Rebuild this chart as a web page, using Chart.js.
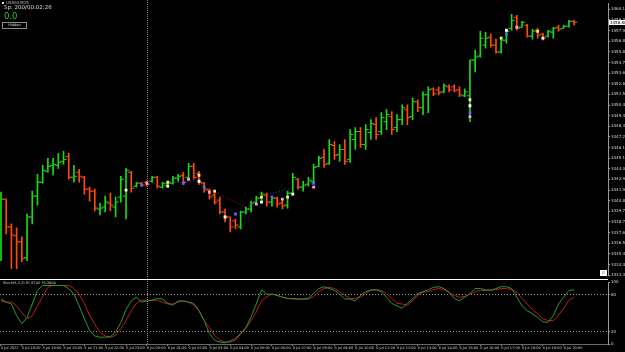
<!DOCTYPE html>
<html>
<head>
<meta charset="utf-8">
<script src="https://cdn.jsdelivr.net/npm/chart.js@4.4.1/dist/chart.umd.min.js"></script>
<style>
  html, body { margin: 0; padding: 0; background: #000; }
  #wrap { position: relative; width: 625px; height: 352px; overflow: hidden; background: #000; font-family: 'DejaVu Sans', sans-serif; }
  canvas { position: absolute; left: 0; }
  #price { top: 0; }
  #osc { top: 279px; }
  .txt { position: absolute; white-space: nowrap; line-height: 1; }
  #title { left: 6px; top: 1px; font-size: 4px; color: #bbb; }
  #sq { position: absolute; left: 2px; top: 2px; width: 2px; height: 2px; background: #ddd; }
  #spread { left: 4px; top: 5px; font-size: 5.5px; color: #ddd; }
  #pnl { left: 4px; top: 12px; font-size: 8.5px; color: #1ed21e; }
  #hide { left: 2px; top: 22px; width: 23px; height: 5px; border: 1px solid #8a8a8a; font-size: 3.5px; color: #ddd; text-align: center; line-height: 5px; }
  #sep { position: absolute; left: 0; top: 279px; width: 608px; height: 1px; background: #fff; }
  #stochTxt { left: 3px; top: 282px; font-size: 3.5px; color: #ccc; }
  #corner { position: absolute; left: 600px; top: 270px; width: 7px; height: 6px; background: #fff; color: #555; font-size: 3px; line-height: 6px; text-align: center; }
</style>
</head>
<body>
<div id="wrap">
  <canvas id="price" width="625" height="279"></canvas>
  <canvas id="osc" width="625" height="73"></canvas>
  <div id="sep"></div>
  <div id="sq"></div>
  <div class="txt" id="title">US500,M15</div>
  <div class="txt" id="spread">Sp: 200/00:02:26</div>
  <div class="txt" id="pnl">0.0</div>
  <div class="txt" id="hide">Hidden</div>
  <div class="txt" id="stochTxt"></div>
  <div id="corner">ET</div>
</div>
<script>
// bar data, one entry per M15 bar
var opens = [3435.5, 3441.0, 3438.2, 3437.3, 3436.7, 3435.1, 3439.2, 3441.3, 3442.7, 3443.8,
  3444.4, 3444.4, 3444.8, 3445.3, 3443.2, 3443.7, 3443.2, 3442.0, 3441.8, 3440.0,
  3440.2, 3440.6, 3440.2, 3441.2, 3441.3, 3443.7, 3442.3, 3442.6, 3442.7, 3442.8,
  3443.2, 3442.2, 3442.4, 3442.6, 3443.1, 3443.4, 3443.2, 3444.3, 3443.6, 3442.6,
  3441.9, 3441.4, 3440.9, 3439.7, 3439.2, 3438.8, 3438.2, 3439.7, 3440.0, 3440.7,
  3441.1, 3441.4, 3440.7, 3441.1, 3440.6, 3440.4, 3441.6, 3443.0, 3442.2, 3442.5,
  3442.8, 3444.3, 3445.2, 3444.6, 3446.4, 3445.5, 3446.0, 3445.0, 3447.0, 3447.8,
  3446.5, 3447.7, 3448.5, 3447.8, 3448.8, 3449.3, 3448.2, 3449.0, 3450.0, 3449.3,
  3450.8, 3450.2, 3451.5, 3452.1, 3452.0, 3451.8, 3452.3, 3452.3, 3452.0, 3451.4,
  3451.4, 3455.0, 3455.4, 3456.5, 3457.3, 3456.5, 3455.8, 3457.0, 3458.2, 3459.3,
  3458.3, 3458.5, 3457.4, 3458.0, 3457.6, 3457.4, 3457.8, 3458.3, 3458.2, 3458.4, 3458.9];
var highs = [3441.7, 3441.0, 3438.5, 3438.1, 3437.2, 3439.5, 3441.8, 3443.5, 3444.4, 3445.1,
  3445.1, 3445.6, 3445.8, 3445.6, 3444.4, 3444.0, 3443.3, 3442.2, 3442.0, 3440.6,
  3441.3, 3441.6, 3441.2, 3443.3, 3444.1, 3443.8, 3442.7, 3442.7, 3442.8, 3443.3,
  3443.3, 3442.7, 3442.8, 3443.3, 3443.5, 3443.7, 3444.6, 3444.6, 3443.8, 3442.7,
  3442.0, 3441.7, 3441.2, 3440.0, 3439.2, 3439.0, 3439.8, 3440.2, 3440.8, 3441.3,
  3441.7, 3441.6, 3441.3, 3441.2, 3441.0, 3441.8, 3443.6, 3443.1, 3442.8, 3443.2,
  3444.5, 3445.3, 3446.0, 3447.0, 3446.8, 3446.5, 3447.0, 3448.0, 3448.2, 3448.2,
  3448.5, 3449.0, 3449.2, 3449.7, 3450.0, 3449.8, 3449.5, 3450.5, 3450.5, 3451.2,
  3451.0, 3451.8, 3452.3, 3452.2, 3452.3, 3452.6, 3452.5, 3452.5, 3452.3, 3452.1,
  3455.0, 3456.0, 3457.9, 3457.8, 3457.6, 3457.1, 3457.3, 3458.1, 3459.6, 3459.5,
  3458.9, 3458.6, 3458.1, 3458.2, 3457.7, 3458.0, 3458.3, 3458.5, 3458.5, 3459.0, 3459.0];
var lows = [3434.8, 3437.5, 3434.0, 3434.0, 3434.7, 3434.8, 3438.5, 3440.4, 3442.6, 3443.7,
  3443.4, 3444.1, 3444.5, 3443.0, 3442.7, 3442.7, 3441.5, 3440.8, 3439.8, 3439.4,
  3439.7, 3439.8, 3439.2, 3440.7, 3439.0, 3441.7, 3442.2, 3442.3, 3442.3, 3442.7,
  3442.1, 3442.1, 3442.2, 3442.5, 3442.8, 3442.5, 3443.0, 3443.0, 3442.5, 3441.7,
  3441.0, 3440.5, 3439.5, 3438.7, 3437.7, 3438.0, 3438.0, 3439.5, 3439.7, 3440.5,
  3440.8, 3440.3, 3440.3, 3440.2, 3440.0, 3440.1, 3441.5, 3442.0, 3441.8, 3442.3,
  3442.7, 3444.3, 3444.2, 3444.5, 3445.0, 3444.8, 3444.5, 3444.7, 3446.0, 3446.2,
  3446.0, 3447.0, 3447.0, 3447.5, 3448.0, 3447.5, 3447.8, 3448.5, 3448.5, 3449.0,
  3449.8, 3449.5, 3449.7, 3451.4, 3451.5, 3451.7, 3451.8, 3451.8, 3451.3, 3451.3,
  3448.8, 3453.8, 3455.3, 3456.2, 3456.3, 3455.7, 3455.7, 3456.7, 3458.0, 3458.0,
  3458.3, 3457.3, 3457.1, 3457.2, 3457.0, 3457.3, 3457.2, 3457.9, 3458.2, 3458.3, 3458.5];
var closes = [3441.0, 3438.2, 3437.4, 3436.7, 3435.0, 3439.2, 3441.3, 3442.7, 3443.9, 3444.3,
  3444.5, 3444.7, 3445.0, 3443.2, 3443.3, 3443.3, 3442.0, 3441.8, 3440.1, 3440.1,
  3440.7, 3440.4, 3440.7, 3443.0, 3443.9, 3442.1, 3442.6, 3442.4, 3442.5, 3443.2,
  3442.3, 3442.6, 3442.7, 3443.1, 3443.3, 3442.7, 3444.3, 3443.2, 3442.7, 3442.0,
  3441.2, 3440.7, 3439.7, 3439.2, 3438.2, 3438.4, 3439.7, 3440.0, 3440.6, 3441.1,
  3441.5, 3440.7, 3441.1, 3440.5, 3440.3, 3441.6, 3443.2, 3442.2, 3442.4, 3442.9,
  3444.2, 3445.1, 3444.5, 3446.5, 3445.4, 3446.0, 3444.8, 3447.5, 3447.8, 3446.5,
  3448.0, 3448.6, 3447.5, 3449.2, 3449.5, 3448.0, 3449.0, 3450.2, 3449.2, 3450.8,
  3450.2, 3451.5, 3452.0, 3451.6, 3451.7, 3452.4, 3452.0, 3451.9, 3451.5, 3451.8,
  3455.0, 3455.3, 3457.2, 3457.2, 3456.5, 3455.8, 3457.0, 3457.9, 3459.0, 3458.2,
  3458.8, 3457.4, 3457.9, 3457.5, 3457.2, 3457.9, 3458.2, 3458.1, 3458.4, 3458.9, 3458.8];

// Stochastic(5,3,3)
var stochMain = [73, 68, 65, 46, 33, 43, 65, 87, 95, 95,
  95, 95, 95, 90, 81, 62, 41, 22, 13, 11,
  11, 12, 19, 35, 56, 70, 76, 68, 70, 71,
  74, 73, 66, 63, 70, 70, 68, 66, 54, 38,
  17, 6, 3, 2, 5, 9, 17, 27, 44, 65,
  88, 81, 81, 79, 76, 74, 74, 73, 73, 74,
  82, 90, 93, 90, 87, 81, 73, 73, 70, 79,
  85, 88, 88, 85, 76, 66, 62, 58, 66, 73,
  82, 85, 88, 92, 93, 90, 84, 74, 70, 76,
  82, 90, 90, 88, 87, 90, 93, 93, 90, 76,
  62, 54, 49, 43, 36, 35, 46, 65, 76, 87, 87.8743];
var stochSignal = [70, 68, 68, 62, 51, 41, 46, 62, 77, 92,
  95, 95, 95, 95, 90, 81, 66, 47, 32, 19,
  13, 11, 14, 25, 38, 54, 66, 71, 71, 71,
  71, 68, 65, 65, 68, 70, 68, 63, 54, 38,
  27, 14, 6, 3, 3, 6, 16, 25, 38, 52,
  70, 77, 81, 79, 76, 74, 73, 73, 73, 73,
  77, 85, 90, 92, 90, 85, 79, 74, 74, 76,
  82, 87, 88, 87, 82, 74, 66, 65, 63, 70,
  79, 84, 85, 88, 90, 88, 84, 79, 76, 77,
  81, 85, 87, 87, 88, 88, 90, 90, 88, 84,
  74, 65, 56, 49, 41, 38, 38, 47, 58, 71, 76.3604];
var stochLevels = [20, 80];

var timeLabels = ['5 Jul 2022', '5 Jul 18:00', '5 Jul 19:00', '5 Jul 20:00', '5 Jul 21:00', '5 Jul 22:00', '5 Jul 23:00',
  '6 Jul 00:00', '6 Jul 01:00', '6 Jul 02:00', '6 Jul 03:00', '6 Jul 04:00', '6 Jul 05:00', '6 Jul 06:00',
  '6 Jul 07:00', '6 Jul 08:00', '6 Jul 09:00', '6 Jul 10:00', '6 Jul 11:00', '6 Jul 12:00', '6 Jul 13:00',
  '6 Jul 14:00', '6 Jul 15:00', '6 Jul 16:00', '6 Jul 17:00', '6 Jul 18:00', '6 Jul 19:00', '6 Jul 20:00'];
var barsPerLabel = 4;
var daySeparators = [28];

var priceTicks = [3460.10, 3459.03, 3457.96, 3456.89, 3455.82, 3454.75, 3453.68, 3452.61, 3451.54, 3450.47,
  3449.40, 3448.33, 3447.26, 3446.19, 3445.12, 3444.05, 3442.98, 3441.91, 3440.84, 3439.77,
  3438.70, 3437.63, 3436.56, 3435.49, 3434.42, 3433.35];
var stochTicks = [0, 20, 80, 100];

// trade arrows from the EA
var tradeBars = [24, 27, 28, 32, 32, 35, 36, 38, 38, 39, 40, 41, 43, 45, 49, 50, 50, 52, 54, 55, 56, 60, 60,
  90, 90, 90, 90, 96, 97, 97, 99, 103, 104];
var tradePrices = [3441.9, 3442.4, 3442.6, 3442.7, 3442.3, 3442.6, 3443.0, 3443.4, 3442.8, 3442.2, 3441.7, 3441.8, 3439.2, 3439.5,
  3440.5, 3441.2, 3440.7, 3441.2, 3441.0, 3441.2, 3441.5, 3442.6, 3442.2,
  3451.0, 3450.4, 3449.7, 3449.3, 3457.2, 3458.0, 3457.6, 3458.3, 3457.9, 3457.2];

var trendRed = [[38, 3442.5], [47, 3440.2]];
var trendBlue = [[50, 3441.3], [60, 3442.7]];
var trendBlue2 = [[30, 3442.5], [37, 3442.8]];

var UP = '#19d919', DOWN = '#ff4a0a';
var xMin = -0.19, xMax = 116.5;

function isUp(i) { return closes[i] >= opens[i]; }
function pts(arr) { return arr.map(function (p) { return { x: p[0], y: p[1] }; }); }

var separatorPlugin = {
  id: 'separator',
  beforeDatasetsDraw: function (chart, args, opts) {
    var ctx = chart.ctx, area = chart.chartArea;
    ctx.save();
    ctx.strokeStyle = '#8c8c8c';
    ctx.lineWidth = 1;
    ctx.setLineDash([1, 1]);
    daySeparators.forEach(function (bar) {
      var x = Math.round(chart.scales.x.getPixelForValue(bar)) + 0.5;
      ctx.beginPath();
      ctx.moveTo(x, 0);
      ctx.lineTo(x, area.bottom + (opts.extra || 0));
      ctx.stroke();
    });
    ctx.restore();
  }
};

var priceTagPlugin = {
  id: 'priceTag',
  afterDraw: function (chart) {
    var last = closes[closes.length - 1];
    var y = Math.round(chart.scales.y.getPixelForValue(last));
    var x = chart.chartArea.right + 1;
    var ctx = chart.ctx;
    ctx.save();
    ctx.fillStyle = '#fff';
    ctx.fillRect(x, y - 2, 16, 5);
    ctx.fillStyle = '#000';
    ctx.font = '4px "DejaVu Sans"';
    ctx.textBaseline = 'middle';
    ctx.fillText(last.toFixed(2), x + 1, y + 0.5);
    ctx.restore();
  }
};

var priceConfig = {
  type: 'bar',
  data: {
    datasets: [{
      type: 'scatter',
      data: tradeBars.map(function (b, k) { return { x: b, y: tradePrices[k] }; }),
      pointStyle: 'rect',
      pointRadius: 2,
      borderWidth: 0,
      backgroundColor: function (c) { return ['#ffffff', '#4f6bff', '#ff9bd2', '#ffe27a'][c.dataIndex % 4]; },
      order: 0
    }, {
      type: 'scatter',
      data: opens.map(function (o, i) { return { x: i - 0.3, y: o }; }),
      pointStyle: 'line',
      pointRadius: 1.6,
      borderWidth: 1,
      borderColor: function (c) { return isUp(c.dataIndex) ? UP : DOWN; },
      order: 1
    }, {
      type: 'scatter',
      data: closes.map(function (v, i) { return { x: i + 0.3, y: v }; }),
      pointStyle: 'line',
      pointRadius: 1.6,
      borderWidth: 1,
      borderColor: function (c) { return isUp(c.dataIndex) ? UP : DOWN; },
      order: 1
    }, {
      type: 'bar',
      data: highs.map(function (h, i) { return { x: i, y: [lows[i], h] }; }),
      barThickness: 1,
      backgroundColor: function (c) { return isUp(c.dataIndex) ? UP : DOWN; },
      order: 2
    }, {
      type: 'line',
      data: pts(trendRed),
      borderColor: '#a01a1a',
      borderWidth: 1,
      borderDash: [1, 2],
      pointRadius: 0,
      order: 3
    }, {
      type: 'line',
      data: pts(trendBlue),
      borderColor: '#2a3fc8',
      borderWidth: 1,
      borderDash: [1, 2],
      pointRadius: 0,
      order: 3
    }, {
      type: 'line',
      data: pts(trendBlue2),
      borderColor: '#2a3fc8',
      borderWidth: 1,
      borderDash: [1, 2],
      pointRadius: 0,
      order: 3
    }]
  },
  options: {
    responsive: false,
    animation: false,
    events: [],
    layout: { autoPadding: false, padding: { top: 3, bottom: 2, left: 0, right: 0 } },
    plugins: { legend: { display: false }, tooltip: { enabled: false }, separator: { extra: 2 } },
    scales: {
      x: { type: 'linear', min: xMin, max: xMax, offset: false, display: false },
      y: {
        position: 'right',
        min: 3433.3,
        max: 3460.7,
        afterFit: function (s) { s.width = 17; },
        afterBuildTicks: function (s) { s.ticks = priceTicks.map(function (v) { return { value: v }; }); },
        grid: { drawOnChartArea: false, drawTicks: true, tickLength: 2, tickColor: '#9a9a9a' },
        border: { display: true, color: '#9a9a9a' },
        ticks: {
          autoSkip: false,
          padding: 1,
          color: '#d6d6d6',
          font: { family: 'DejaVu Sans', size: 4 },
          callback: function (v) { return Number(v).toFixed(2); }
        }
      }
    }
  },
  plugins: [separatorPlugin, priceTagPlugin]
};

var oscConfig = {
  type: 'line',
  data: {
    datasets: [{
      data: stochMain.map(function (v, i) { return { x: i, y: v }; }),
      borderColor: '#2a9a2a',
      borderWidth: 1,
      pointRadius: 0,
      tension: 0
    }, {
      data: stochSignal.map(function (v, i) { return { x: i, y: v }; }),
      borderColor: '#c11a1a',
      borderWidth: 1,
      pointRadius: 0,
      tension: 0
    }]
  },
  options: {
    responsive: false,
    animation: false,
    events: [],
    layout: { autoPadding: false, padding: { top: 2, bottom: 0, left: 0, right: 0 } },
    plugins: { legend: { display: false }, tooltip: { enabled: false }, separator: { extra: 0 } },
    scales: {
      x: {
        type: 'linear',
        min: xMin,
        max: xMax,
        offset: false,
        afterFit: function (s) { s.height = 8; },
        afterBuildTicks: function (s) {
          s.ticks = timeLabels.map(function (t, k) { return { value: k * barsPerLabel }; });
        },
        grid: { drawOnChartArea: false, drawTicks: true, tickLength: 2, tickColor: '#8a8a8a' },
        border: { display: true, color: '#6a6a6a' },
        ticks: {
          autoSkip: false,
          maxRotation: 0,
          align: 'start',
          padding: 0,
          color: '#d0d0d0',
          font: { family: 'DejaVu Sans', size: 3.5 },
          callback: function (v) { return timeLabels[Math.round(v / barsPerLabel)]; }
        }
      },
      y: {
        position: 'right',
        min: 0,
        max: 100,
        afterFit: function (s) { s.width = 17; },
        afterBuildTicks: function (s) { s.ticks = stochTicks.map(function (v) { return { value: v }; }); },
        grid: {
          drawTicks: true,
          tickLength: 2,
          tickColor: '#9a9a9a',
          color: function (c) { return stochLevels.indexOf(c.tick && c.tick.value) >= 0 ? '#9a9a9a' : 'rgba(0,0,0,0)'; }
        },
        border: { display: true, color: '#9a9a9a', dash: [1, 2] },
        ticks: {
          autoSkip: false,
          padding: 1,
          color: '#d6d6d6',
          font: { family: 'DejaVu Sans', size: 4 }
        }
      }
    }
  },
  plugins: [separatorPlugin]
};

document.getElementById('stochTxt').textContent =
  'Stoch(5,3,3) ' + stochMain[stochMain.length - 1].toFixed(4) + ' ' + stochSignal[stochSignal.length - 1].toFixed(4);

window.priceChart = new Chart(document.getElementById('price'), priceConfig);
window.oscChart = new Chart(document.getElementById('osc'), oscConfig);
</script>
</body>
</html>
